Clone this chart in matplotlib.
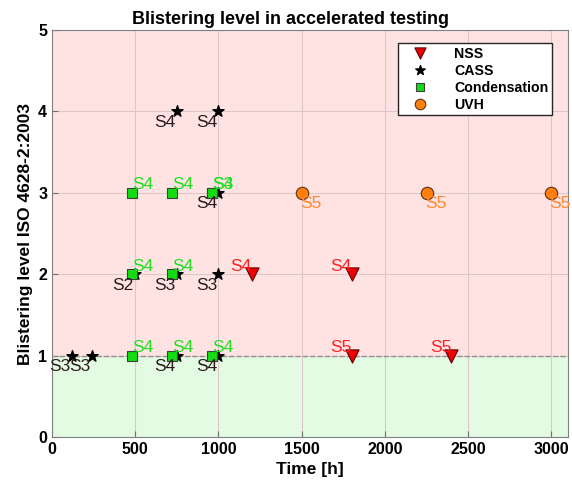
import matplotlib.pyplot as plt

plt.rcParams['font.family'] = ['Liberation Sans', 'DejaVu Sans']

# Datos
nss_t = [1200, 1800, 1800, 2400]
nss_lvl = [2, 2, 1, 1]
nss_lab = ['S4', 'S4', 'S5', 'S5']

cass_t = [120, 240, 750, 1000, 500, 750, 1000, 1000, 750, 1000]
cass_lvl = [1, 1, 1, 1, 2, 2, 2, 3, 4, 4]
cass_lab = ['S3', 'S3', 'S4', 'S4', 'S2', 'S3', 'S3', 'S4', 'S4', 'S4']

cond_t = [480, 720, 960, 480, 720, 480, 720, 960, 960]
cond_lvl = [1, 1, 1, 2, 2, 3, 3, 3, 3]
cond_lab = ['S4', 'S4', 'S4', 'S4', 'S4', 'S4', 'S4', 'S3', 'S4']

uvh_t = [1500, 2250, 3000]
uvh_lvl = [3, 3, 3]
uvh_lab = ['S5', 'S5', 'S5']

fig = plt.figure(figsize=(5.72, 4.9), dpi=100)
ax = fig.add_axes([52 / 572, 53 / 490, 516 / 572, 407 / 490])

ax.axhspan(0, 1, color='#e3fbe3', zorder=0)
ax.axhspan(1, 5, color='#ffe3e3', zorder=0)
ax.axhline(1, color='#909090', linestyle='--', linewidth=1, zorder=1)
ax.grid(True, color='#dcc8c8', linewidth=0.8, zorder=0.5)
ax.set_axisbelow(True)

ax.scatter(nss_t, nss_lvl, marker='v', s=90, c='#ee0000', edgecolors='#600000', linewidths=0.8, zorder=3, label='NSS')
ax.scatter(cass_t, cass_lvl, marker='*', s=70, c='black', zorder=3, label='CASS')
ax.scatter(cond_t, cond_lvl, marker='s', s=50, c='#11dd11', edgecolors='#404040', linewidths=0.8, zorder=3, label='Condensation')
ax.scatter(uvh_t, uvh_lvl, marker='o', s=80, c='#ff7f0e', edgecolors='#603010', linewidths=0.8, zorder=3, label='UVH')

fs = 12.5
for t, l, s in zip(nss_t, nss_lvl, nss_lab):
    ax.annotate(s, (t, l), xytext=(-11, 8), textcoords='offset pixels', ha='center', va='center', color='#ff2020', fontsize=fs, zorder=4)
for t, l, s in zip(cass_t, cass_lvl, cass_lab):
    ax.annotate(s, (t, l), xytext=(-12, -11), textcoords='offset pixels', ha='center', va='center', color='#2a1c1c', fontsize=fs, zorder=4)
for t, l, s in zip(cond_t, cond_lvl, cond_lab):
    ax.annotate(s, (t, l), xytext=(11, 8), textcoords='offset pixels', ha='center', va='center', color='#22dd22', fontsize=fs, zorder=4)
for t, l, s in zip(uvh_t, uvh_lvl, uvh_lab):
    ax.annotate(s, (t, l), xytext=(9, -11), textcoords='offset pixels', ha='center', va='center', color='#ff8830', fontsize=fs, zorder=4)

ax.set_xlim(0, 3100)
ax.set_ylim(0, 5)
ax.set_xticks([0, 500, 1000, 1500, 2000, 2500, 3000])
ax.set_yticks([0, 1, 2, 3, 4, 5])
ax.tick_params(labelsize=11.5, direction='in', length=4, color='#707070')
for lb in ax.get_xticklabels() + ax.get_yticklabels():
    lb.set_fontweight('bold')
ax.set_xlabel('Time [h]', fontsize=12.5, fontweight='bold')
ax.set_ylabel('Blistering level ISO 4628-2:2003', fontsize=12.5, fontweight='bold')
ax.set_title('Blistering level in accelerated testing', fontsize=13, fontweight='bold', pad=4, x=0.463)
for sp in ax.spines.values():
    sp.set_color('#808080')

leg = ax.legend(loc='upper right', bbox_to_anchor=(1 - 16 / 516, 1 - 13 / 407), borderaxespad=0,
                prop={'weight': 'bold', 'size': 10.2}, fancybox=False, edgecolor='#262626',
                framealpha=1, markerscale=0.85, scatterpoints=1, scatteryoffsets=[0.5],
                handletextpad=1.1, handlelength=2.6, borderpad=0.25, labelspacing=0.22)

plt.savefig('out.png', dpi=100)
